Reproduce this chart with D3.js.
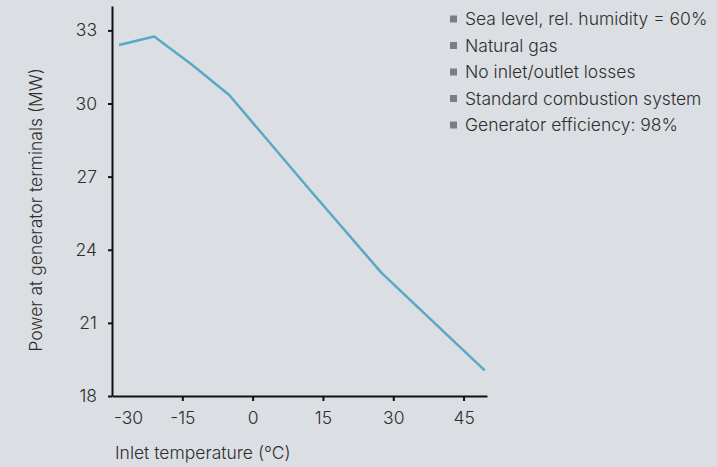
<!DOCTYPE html>
<html>
<head>
<meta charset="utf-8">
<script src="https://cdn.jsdelivr.net/npm/d3@7.9.0/dist/d3.min.js"></script>
<style>
  body { margin: 0; background: #dbdee2; }
  svg { display: block; font-family: Inter, "Liberation Sans", Arial, sans-serif; font-weight: 300; }
</style>
</head>
<body>
<svg id="chart" width="717" height="467"></svg>
<script>
// data
const temps = [-28.5, -21, -13, -5, 12, 27.5, 49.5];
const power = [32.4, 32.75, 31.6, 30.35, 26.5, 23.05, 19.05];
const xTicks = [-30, -15, 0, 15, 30, 45];
const yTicks = [18, 21, 24, 27, 30, 33];
const notes = [
  "Sea level, rel. humidity = 60%",
  "Natural gas",
  "No inlet/outlet losses",
  "Standard combustion system",
  "Generator efficiency: 98%"
];

const svg = d3.select("#chart");
const plotLeft = 112, plotRight = 487, plotTop = 6, plotBottom = 396;

const x = d3.scaleLinear().domain([-30, 50]).range([plotLeft, plotRight]);
const y = d3.scaleLinear().domain([18, 34]).range([plotBottom, plotTop]);

const txt = "#2e2e2e";
const fs = "17.5px";

// y axis
const yAxis = svg.append("g")
  .attr("transform", `translate(${plotLeft},0)`)
  .call(d3.axisLeft(y).tickValues(yTicks).tickFormat(d => String(d))
    .tickSize(4).tickPadding(11).tickSizeOuter(0));
yAxis.attr("font-family", null).attr("font-size", null);
yAxis.select(".domain").attr("stroke", "#111").attr("stroke-width", 2);
yAxis.selectAll(".tick line").attr("stroke", "#111").attr("stroke-width", 2);
yAxis.selectAll(".tick text").attr("fill", txt).style("font-size", fs);

// x axis
const xAxis = svg.append("g")
  .attr("transform", `translate(0,${plotBottom})`)
  .call(d3.axisBottom(x).tickValues(xTicks).tickFormat(d => String(d))
    .tickSize(5).tickPadding(11).tickSizeOuter(0));
xAxis.attr("font-family", null).attr("font-size", null);
xAxis.select(".domain").attr("stroke", "#111").attr("stroke-width", 2);
xAxis.selectAll(".tick line").attr("stroke", "#111").attr("stroke-width", 2);
xAxis.selectAll(".tick text").attr("fill", txt).style("font-size", fs);
xAxis.selectAll(".tick").filter(d => d === -30).select("text").attr("dx", 16);
xAxis.selectAll(".tick").filter(d => d === -30).select("line").remove();

// axis titles
svg.append("text")
  .attr("x", 115).attr("y", 459)
  .attr("fill", txt).style("font-size", fs)
  .text("Inlet temperature (°C)");

svg.append("text")
  .attr("transform", `translate(42,210) rotate(-90)`)
  .attr("text-anchor", "middle")
  .attr("fill", txt).style("font-size", fs)
  .text("Power at generator terminals (MW)");

// line
const line = d3.line().x((d, i) => x(temps[i])).y(d => y(d));
svg.append("path")
  .datum(power)
  .attr("d", line)
  .attr("fill", "none")
  .attr("stroke", "#5aa8c8")
  .attr("stroke-width", 2.5)
  .attr("stroke-linejoin", "round");

// notes
const legend = svg.append("g").attr("transform", "translate(450,0)");
notes.forEach((n, i) => {
  const cy = 19 + i * 26.5;
  legend.append("rect")
    .attr("x", 0).attr("y", cy - 3.5)
    .attr("width", 7).attr("height", 7)
    .attr("fill", "#767e88");
  legend.append("text")
    .attr("x", 15).attr("y", cy)
    .attr("dy", "0.35em")
    .attr("fill", txt).style("font-size", fs)
    .text(n);
});
</script>
</body>
</html>
